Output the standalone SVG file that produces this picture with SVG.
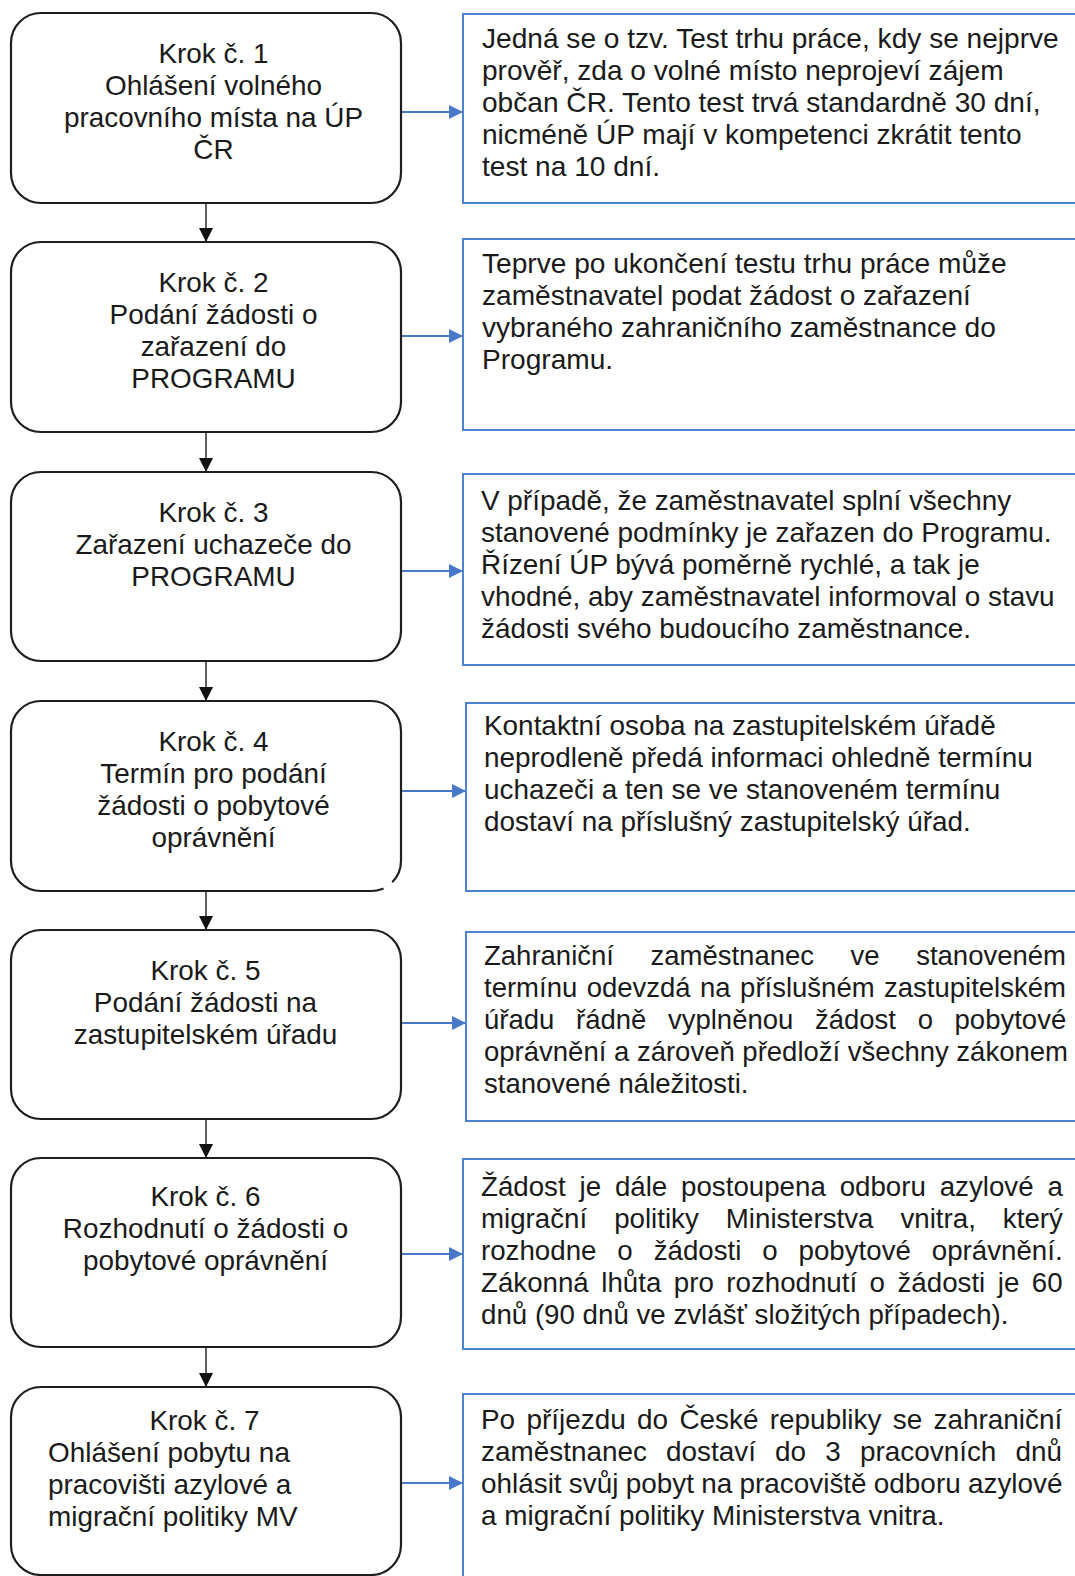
<svg xmlns="http://www.w3.org/2000/svg" width="1075" height="1576" viewBox="0 0 1075 1576">
<defs>
<style>
.step{fill:#fff;stroke:#1e1e1e;stroke-width:2.2}
.note{fill:#fff;stroke:#5082d2;stroke-width:2}
text{font-family:"Liberation Sans",Arial,sans-serif;font-size:27.9px;fill:#1a1a1a}
.c{text-anchor:middle}
.f1{font-size:28.1px}
.f5{font-size:27.5px}
.f6{font-size:27.7px}
.down{stroke:#1e1e1e;stroke-width:1.4;fill:none}
.right{stroke:#4a78c8;stroke-width:1.8;fill:none}
</style>
<marker id="ahBlack" markerUnits="userSpaceOnUse" markerWidth="14" markerHeight="14" viewBox="0 0 14 14" refX="14" refY="7" orient="auto">
<path d="M0,0 L14,7 L0,14 Z" fill="#111"/>
</marker>
<marker id="ahBlue" markerUnits="userSpaceOnUse" markerWidth="14" markerHeight="14" viewBox="0 0 14 14" refX="14" refY="7" orient="auto">
<path d="M0,0 L14,7 L0,14 Z" fill="#4a78c8"/>
</marker>
</defs>
<rect width="1075" height="1576" fill="#fff"/>

<g id="connectors">
<line class="down" x1="206" y1="203" x2="206" y2="242" marker-end="url(#ahBlack)"/>
<line class="down" x1="206" y1="432" x2="206" y2="472" marker-end="url(#ahBlack)"/>
<line class="down" x1="206" y1="661" x2="206" y2="701" marker-end="url(#ahBlack)"/>
<line class="down" x1="206" y1="891" x2="206" y2="930" marker-end="url(#ahBlack)"/>
<line class="down" x1="206" y1="1119" x2="206" y2="1158" marker-end="url(#ahBlack)"/>
<line class="down" x1="206" y1="1347" x2="206" y2="1387" marker-end="url(#ahBlack)"/>
<line class="right" x1="401" y1="112" x2="463" y2="112" marker-end="url(#ahBlue)"/>
<line class="right" x1="401" y1="336" x2="463" y2="336" marker-end="url(#ahBlue)"/>
<line class="right" x1="401" y1="571" x2="463" y2="571" marker-end="url(#ahBlue)"/>
<line class="right" x1="401" y1="791" x2="466" y2="791" marker-end="url(#ahBlue)"/>
<line class="right" x1="401" y1="1023" x2="466" y2="1023" marker-end="url(#ahBlue)"/>
<line class="right" x1="401" y1="1254" x2="463" y2="1254" marker-end="url(#ahBlue)"/>
<line class="right" x1="401" y1="1483" x2="463" y2="1483" marker-end="url(#ahBlue)"/>
</g>

<g id="step1">
<rect class="step" x="11" y="13" width="390" height="190" rx="30"/>
<text class="c" x="213.5" y="63">Krok č. 1</text>
<text class="c" x="213.5" y="95">Ohlášení volného</text>
<text class="c" x="213.5" y="127">pracovního místa na ÚP</text>
<text class="c" x="213.5" y="159">ČR</text>
</g>
<g id="note1">
<rect class="note" x="463" y="14" width="620" height="189"/>
<text class="f1" x="482" y="48">Jedná se o tzv. Test trhu práce, kdy se nejprve</text>
<text class="f1" x="482" y="80">prověř, zda o volné místo neprojeví zájem</text>
<text class="f1" x="482" y="112">občan ČR. Tento test trvá standardně 30 dní,</text>
<text class="f1" x="482" y="144">nicméně ÚP mají v kompetenci zkrátit tento</text>
<text class="f1" x="482" y="176">test na 10 dní.</text>
</g>

<g id="step2">
<rect class="step" x="11" y="242" width="390" height="190" rx="30"/>
<text class="c" x="213.5" y="292">Krok č. 2</text>
<text class="c" x="213.5" y="324">Podání žádosti o</text>
<text class="c" x="213.5" y="356">zařazení do</text>
<text class="c" x="213.5" y="388">PROGRAMU</text>
</g>
<g id="note2">
<rect class="note" x="463" y="239" width="620" height="191"/>
<text class="f1" x="482" y="273">Teprve po ukončení testu trhu práce může</text>
<text class="f1" x="482" y="305">zaměstnavatel podat žádost o zařazení</text>
<text class="f1" x="482" y="337">vybraného zahraničního zaměstnance do</text>
<text class="f1" x="482" y="369">Programu.</text>
</g>

<g id="step3">
<rect class="step" x="11" y="472" width="390" height="189" rx="30"/>
<text class="c" x="213.5" y="522">Krok č. 3</text>
<text class="c" x="213.5" y="554">Zařazení uchazeče do</text>
<text class="c" x="213.5" y="586">PROGRAMU</text>
</g>
<g id="note3">
<rect class="note" x="463" y="474" width="620" height="191"/>
<text x="481" y="510">V případě, že zaměstnavatel splní všechny</text>
<text x="481" y="542">stanovené podmínky je zařazen do Programu.</text>
<text x="481" y="574">Řízení ÚP bývá poměrně rychlé, a tak je</text>
<text x="481" y="606">vhodné, aby zaměstnavatel informoval o stavu</text>
<text x="481" y="638">žádosti svého budoucího zaměstnance.</text>
</g>

<g id="step4">
<rect class="step" x="11" y="701" width="390" height="190" rx="30"/>
<line x1="384" y1="889" x2="392" y2="882" stroke="#fff" stroke-width="4"/>
<text class="c" x="213.5" y="751">Krok č. 4</text>
<text class="c" x="213.5" y="783">Termín pro podání</text>
<text class="c" x="213.5" y="815">žádosti o pobytové</text>
<text class="c" x="213.5" y="847">oprávnění</text>
</g>
<g id="note4">
<rect class="note" x="466" y="703" width="620" height="188"/>
<text x="484" y="735">Kontaktní osoba na zastupitelském úřadě</text>
<text x="484" y="767">neprodleně předá informaci ohledně termínu</text>
<text x="484" y="799">uchazeči a ten se ve stanoveném termínu</text>
<text x="484" y="831">dostaví na příslušný zastupitelský úřad.</text>
</g>

<g id="step5">
<rect class="step" x="11" y="930" width="390" height="189" rx="30"/>
<text class="c" x="205.5" y="980">Krok č. 5</text>
<text class="c" x="205.5" y="1012">Podání žádosti na</text>
<text class="c" x="205.5" y="1044">zastupitelském úřadu</text>
</g>
<g id="note5">
<rect class="note" x="466" y="932" width="620" height="189"/>
<text class="f5" x="484" y="965" word-spacing="28.9">Zahraniční zaměstnanec ve stanoveném</text>
<text class="f5" x="484" y="997" word-spacing="1.8">termínu odevzdá na příslušném zastupitelském</text>
<text class="f5" x="484" y="1029" word-spacing="14">úřadu řádně vyplněnou žádost o pobytové</text>
<text class="f5" x="484" y="1061">oprávnění a zároveň předloží všechny zákonem</text>
<text class="f5" x="484" y="1093">stanovené náležitosti.</text>
</g>

<g id="step6">
<rect class="step" x="11" y="1158" width="390" height="189" rx="30"/>
<text class="c" x="205.5" y="1206">Krok č. 6</text>
<text class="c" x="205.5" y="1238">Rozhodnutí o žádosti o</text>
<text class="c" x="205.5" y="1270">pobytové oprávnění</text>
</g>
<g id="note6">
<rect class="note" x="463" y="1159" width="620" height="190"/>
<text class="f6" x="481" y="1196" word-spacing="6.15">Žádost je dále postoupena odboru azylové a</text>
<text class="f6" x="481" y="1228" word-spacing="19.3">migrační politiky Ministerstva vnitra, který</text>
<text class="f6" x="481" y="1260" word-spacing="13.2">rozhodne o žádosti o pobytové oprávnění.</text>
<text class="f6" x="481" y="1292" word-spacing="4.8">Zákonná lhůta pro rozhodnutí o žádosti je 60</text>
<text class="f6" x="481" y="1324">dnů (90 dnů ve zvlášť složitých případech).</text>
</g>

<g id="step7">
<rect class="step" x="11" y="1387" width="390" height="188" rx="30"/>
<text class="c" x="204.5" y="1430">Krok č. 7</text>
<text x="48" y="1462">Ohlášení pobytu na</text>
<text x="48" y="1494">pracovišti azylové a</text>
<text x="48" y="1526">migrační politiky MV</text>
</g>
<g id="note7">
<rect class="note" x="463" y="1394" width="620" height="200"/>
<text x="481" y="1429" word-spacing="3.6">Po příjezdu do České republiky se zahraniční</text>
<text x="481" y="1461" word-spacing="11.4">zaměstnanec dostaví do 3 pracovních dnů</text>
<text x="481" y="1493" word-spacing="-0.5">ohlásit svůj pobyt na pracoviště odboru azylové</text>
<text x="481" y="1525">a migrační politiky Ministerstva vnitra.</text>
</g>
</svg>
